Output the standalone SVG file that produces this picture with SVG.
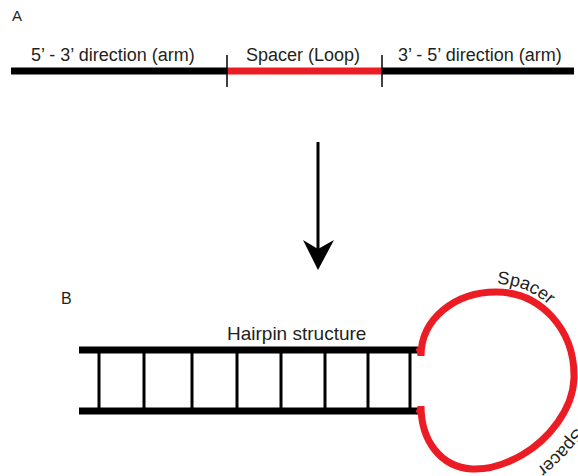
<svg xmlns="http://www.w3.org/2000/svg" xmlns:xlink="http://www.w3.org/1999/xlink" width="578" height="476" viewBox="0 0 578 476">
<style>
text{font-family:"Liberation Sans",Arial,sans-serif;fill:#231f20}
.lbl{font-size:18px}
.bk{stroke:#000;fill:none}
.red{stroke:#ec1c24;fill:none}
</style>
<defs>
<path id="spTop" d="M 496 284 A 85 97 0 0 1 581 381"/>
<path id="spBot" d="M 576 427 Q 558 453 533 471"/>
</defs>
<rect width="578" height="476" fill="#fff"/>
<g id="panelA">
<text x="12" y="21" style="font-size:15px">A</text>
<g id="arm5">
<line class="bk" x1="11" y1="71" x2="227" y2="71" stroke-width="7"/>
<text class="lbl" x="31" y="61">5’ - 3’ direction (arm)</text>
</g>
<g id="spacerA">
<line class="red" x1="227" y1="71" x2="382" y2="71" stroke-width="7"/>
<text class="lbl" x="246" y="61">Spacer (Loop)</text>
</g>
<g id="arm3">
<line class="bk" x1="382" y1="71" x2="574" y2="71" stroke-width="7"/>
<text class="lbl" x="398" y="61">3’ - 5’ direction (arm)</text>
</g>
<line class="bk" x1="227" y1="55" x2="227" y2="87" stroke-width="1.5"/>
<line class="bk" x1="382" y1="55" x2="382" y2="87" stroke-width="1.5"/>
</g>
<g id="connectors">
<line class="bk" x1="318" y1="142" x2="318" y2="250" stroke-width="3"/>
<polygon points="318,270 303,240 318,249 334,240" fill="#000"/>
</g>
<g id="panelB">
<text x="61" y="304" style="font-size:16px">B</text>
<g id="ladder">
<line class="bk" x1="79" y1="350" x2="418" y2="350" stroke-width="7"/>
<line class="bk" x1="79" y1="411" x2="418" y2="411" stroke-width="7"/>
<g class="bk" stroke-width="3">
<line x1="99" y1="350" x2="99" y2="411"/>
<line x1="144" y1="350" x2="144" y2="411"/>
<line x1="192" y1="350" x2="192" y2="411"/>
<line x1="237" y1="350" x2="237" y2="411"/>
<line x1="281" y1="350" x2="281" y2="411"/>
<line x1="325" y1="350" x2="325" y2="411"/>
<line x1="368" y1="350" x2="368" y2="411"/>
<line x1="410" y1="350" x2="410" y2="411"/>
</g>
<text x="227" y="340" style="font-size:19px">Hairpin structure</text>
</g>
<g id="loop">
<path class="red" d="M 418 347 Q 421 350 421 356 C 421 318 456 292 496 292 C 541 292 575 330 574 378 C 573 410 548 440 522 455 C 506 464 490 470 472 469 C 440 467 421 440 421 406 Q 421 411 418 414" stroke-width="7"/>
<text class="lbl"><textPath xlink:href="#spTop" startOffset="1">Spacer</textPath></text>
<text class="lbl"><textPath xlink:href="#spBot">Spacer</textPath></text>
</g>
</g>
</svg>
